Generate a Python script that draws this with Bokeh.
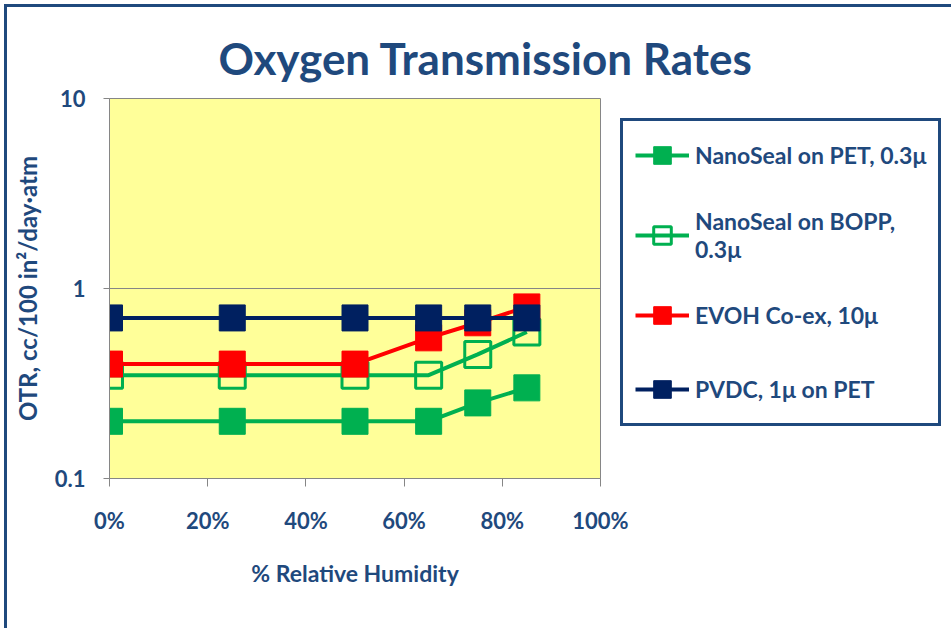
from bokeh.plotting import figure
from bokeh.models import FixedTicker, Legend, LegendItem, Title, Range1d
from bokeh.embed import file_html
from bokeh.resources import INLINE

# ---- data ----
rh = [0, 25, 50, 65, 75, 85]
nanoseal_pet = [0.2, 0.2, 0.2, 0.2, 0.25, 0.3]
nanoseal_bopp = [0.35, 0.35, 0.35, 0.35, 0.45, 0.59]
evoh = [0.4, 0.4, 0.4, 0.55, 0.66, 0.8]
pvdc = [0.7, 0.7, 0.7, 0.7, 0.7, 0.7]

series_names = ["NanoSeal on PET, 0.3μ", "NanoSeal on BOPP,\n0.3μ",
                "EVOH Co-ex, 10μ", "PVDC, 1μ on PET"]
x_ticks = [0, 20, 40, 60, 80, 100]
x_tick_labels = ["0%", "20%", "40%", "60%", "80%", "100%"]
y_ticks = [0.1, 1, 10]
y_tick_labels = ["0.1", "1", "10"]

TEXT = "#1F497D"
FRAME = "#1F497D"
GRAY = "#868686"
GREEN = "#00B050"
RED = "#FF0000"
NAVY = "#002060"
FONT = "Lato"

p = figure(frame_width=491, frame_height=380, y_axis_type="log",
           x_range=Range1d(0, 100), y_range=Range1d(0.1, 10),
           output_backend="svg", toolbar_location=None,
           min_border_left=102, min_border_top=91, min_border_right=10,
           min_border_bottom=150,
           background_fill_color="#FFFF99", border_fill_color="white",
           outline_line_color=GRAY, outline_line_width=1)
p.styles = {"border-left": f"3px solid {FRAME}", "border-top": f"3px solid {FRAME}",
            "margin-left": "4px", "margin-top": "4px"}

title = Title(text="Oxygen Transmission Rates", align="left", offset=109,
              text_font=FONT, text_font_style="bold", text_font_size="44px",
              text_color=TEXT, standoff=29)
p.add_layout(title, "above")

# axes
p.xaxis.ticker = FixedTicker(ticks=x_ticks)
p.xaxis.major_label_overrides = dict(zip(x_ticks, x_tick_labels))
p.yaxis.ticker = FixedTicker(ticks=y_ticks)
p.yaxis.major_label_overrides = dict(zip(y_ticks, y_tick_labels))
for ax in (p.xaxis, p.yaxis):
    ax.axis_line_color = GRAY
    ax.major_tick_line_color = GRAY
    ax.minor_tick_line_color = None
    ax.major_tick_in = 0
    ax.major_label_text_font = FONT
    ax.major_label_text_font_style = "bold"
    ax.major_label_text_font_size = "22px"
    ax.major_label_text_color = TEXT
    ax.axis_label_text_font = FONT
    ax.axis_label_text_font_style = "bold"
    ax.axis_label_text_color = TEXT
p.xaxis.axis_label_text_font_size = "23px"
p.yaxis.axis_label_text_font_size = "24px"
p.xaxis.major_tick_out = 8
p.yaxis.major_tick_out = 6
p.xaxis.major_label_standoff = 20
p.yaxis.major_label_standoff = 18
p.xaxis.axis_label = "% Relative Humidity"
p.yaxis.axis_label = "OTR, cc/100 in²/day·atm"
p.xaxis.axis_label_standoff = 22
p.yaxis.axis_label_standoff = 10
p.xgrid.visible = False
p.ygrid.grid_line_color = GRAY
p.ygrid.grid_line_width = 1

# series
items = []
specs = [
    (nanoseal_pet, GREEN, GREEN, series_names[0]),
    (nanoseal_bopp, GREEN, None, series_names[1]),
    (evoh, RED, RED, series_names[2]),
    (pvdc, NAVY, NAVY, series_names[3]),
]
for ys, col, fill, name in specs:
    lr = p.line(rh, ys, line_color=col, line_width=4)
    sr = p.scatter(rh, ys, marker="square", size=26, line_color=col,
                   fill_color=fill, line_width=3 if fill is None else 1)
    items.append(LegendItem(label=name, renderers=[lr, sr]))

legend = Legend(items=items, location="top_left",
                glyph_width=54, glyph_height=44, label_standoff=6,
                spacing=30, padding=12, margin=20,
                label_text_font=FONT, label_text_font_style="bold",
                label_text_font_size="23px", label_text_color=TEXT,
                border_line_color=FRAME, border_line_width=3, border_line_alpha=1,
                background_fill_color="white", background_fill_alpha=1)
p.add_layout(legend, "right")

open("out.html", "w").write(file_html(p, INLINE))
